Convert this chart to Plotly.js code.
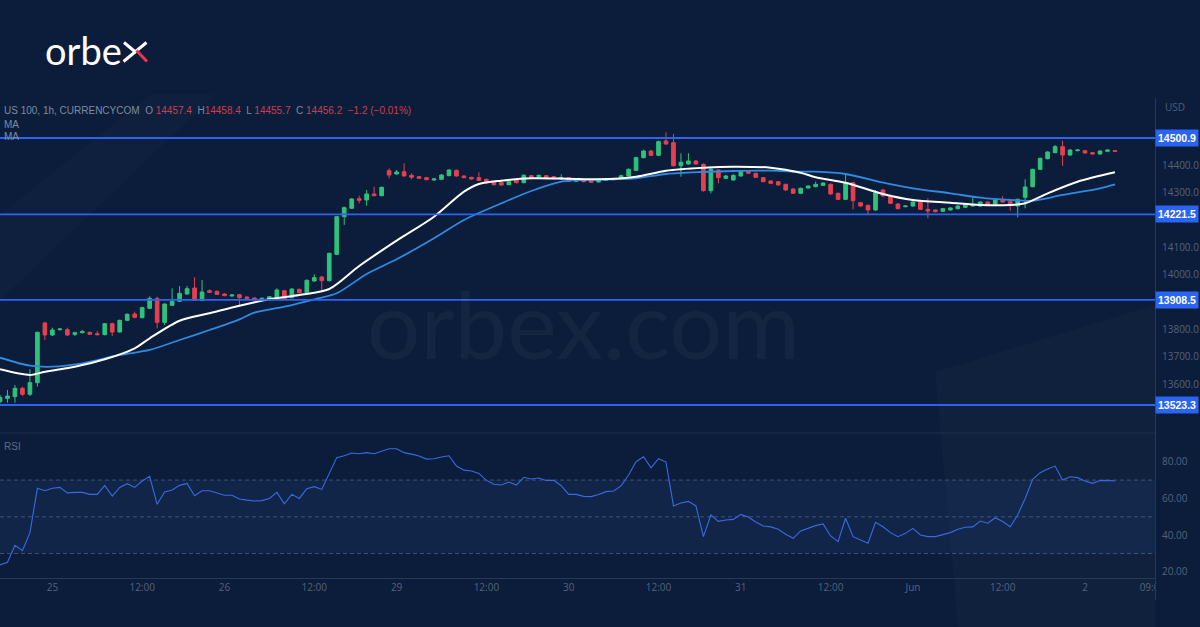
<!DOCTYPE html>
<html><head><meta charset="utf-8">
<script src="https://cdn.plot.ly/plotly-3.0.1.min.js"></script>
<style>html,body{margin:0;padding:0;background:#0b1d3a;overflow:hidden}#chart{width:1200px;height:627px}</style>
</head><body><div id="chart"></div>
<script>
// ---- data (US 100, 1h) ----
const openP = [
13535.5,13547.7,13553.8,13584.3,13562.4,13605.1,13823.5,13779.6,13799.1,13799.1,
13782.0,13788.1,13789.4,13784.5,13780.8,13821.1,13790.6,13833.3,13856.5,13843.1,
13877.2,13913.8,13826.0,13888.2,13902.9,13929.7,13951.7,13906.5,13941.9,13939.5,
13929.7,13922.4,13927.3,13918.7,13915.1,13911.4,13910.2,13917.5,13941.9,13916.3,
13946.8,13935.8,13977.3,13992.0,13978.5,14074.9,14212.9,14243.4,14278.8,14273.9,
14295.9,14289.8,14381.3,14369.1,14377.6,14364.2,14359.3,14355.7,14347.1,14349.6,
14363.0,14382.5,14361.8,14356.9,14355.7,14349.6,14339.8,14337.3,14330.0,14347.1,
14337.3,14363.0,14359.3,14363.0,14359.3,14350.8,14355.7,14342.2,14347.1,14344.7,
14339.8,14345.9,14348.3,14349.6,14361.8,14382.5,14428.9,14453.3,14437.4,14489.9,
14483.8,14399.6,14405.7,14416.7,14404.5,14308.1,14383.7,14353.2,14347.1,14361.8,
14381.3,14371.5,14355.7,14343.5,14341.0,14331.2,14314.2,14298.3,14317.8,14322.7,
14327.6,14331.2,14298.3,14276.3,14337.3,14264.1,14254.3,14237.3,14310.5,14288.5,
14259.2,14249.5,14251.9,14266.6,14239.7,14237.3,14232.4,14237.3,14242.2,14247.0,
14251.9,14251.9,14266.6,14259.2,14273.9,14267.8,14251.9,14283.6,14322.7,14386.2,
14425.2,14447.2,14469.2,14438.6,14454.5,14454.5,14447.2,14442.3,14452.1,14454.5];
const highP = [
13559.9,13578.2,13596.5,13590.4,13653.9,13791.8,13828.4,13806.4,13804.0,13806.4,
13791.8,13797.9,13791.8,13794.2,13823.5,13824.7,13835.7,13859.0,13865.0,13883.3,
13921.2,13920.0,13895.5,13950.4,13959.0,13959.0,13990.7,13981.0,13946.8,13941.9,
13932.1,13928.5,13929.7,13921.2,13917.5,13916.3,13922.4,13950.5,13944.4,13950.5,
13949.2,13983.4,14001.7,13995.6,14081.0,14215.3,14249.5,14281.2,14289.8,14310.5,
14322.7,14322.7,14389.8,14383.7,14408.1,14371.5,14361.8,14358.1,14354.4,14369.1,
14386.2,14385.0,14364.2,14359.3,14375.2,14352.0,14342.2,14339.8,14343.4,14349.6,
14367.9,14365.4,14366.6,14365.4,14361.8,14367.9,14358.1,14350.8,14349.6,14347.1,
14352.0,14353.2,14354.4,14366.6,14389.8,14432.5,14457.0,14457.0,14491.1,14521.6,
14515.5,14444.7,14444.7,14419.1,14408.1,14395.9,14386.2,14365.4,14367.9,14383.7,
14383.7,14374.0,14358.1,14345.9,14343.4,14333.7,14316.6,14319.0,14327.6,14341.0,
14338.6,14334.9,14300.7,14367.9,14339.8,14266.6,14256.8,14310.5,14312.9,14291.0,
14261.7,14254.3,14269.0,14269.0,14280.0,14239.7,14244.6,14247.0,14254.3,14259.2,
14283.6,14269.0,14269.0,14276.3,14288.5,14270.2,14278.8,14349.6,14388.6,14428.9,
14452.1,14475.3,14491.1,14459.4,14459.4,14457.0,14449.7,14455.7,14459.4,14455.7];
const lowP = [
13529.4,13531.8,13531.8,13556.2,13556.2,13590.4,13761.3,13776.0,13795.4,13776.0,
13776.0,13785.7,13779.6,13778.4,13778.4,13776.0,13788.1,13830.9,13840.6,13840.6,
13874.8,13804.0,13816.2,13885.8,13900.4,13927.3,13904.1,13904.1,13933.4,13926.0,
13921.2,13920.0,13887.0,13911.4,13907.7,13909.0,13907.7,13915.1,13909.0,13913.8,
13932.1,13933.4,13974.9,13944.4,13976.1,14072.5,14182.4,14241.0,14261.7,14253.1,
14287.3,14287.3,14353.2,14366.6,14359.3,14349.6,14350.8,14345.9,14343.4,14347.1,
14360.5,14359.3,14353.2,14348.3,14343.4,14332.5,14326.4,14326.4,14327.6,14334.9,
14334.9,14354.4,14356.9,14354.4,14349.6,14348.3,14339.8,14339.8,14338.6,14336.1,
14337.3,14343.4,14345.9,14347.1,14359.3,14380.1,14426.4,14435.0,14435.0,14475.3,
14395.9,14359.3,14403.3,14403.3,14304.4,14298.3,14334.9,14350.8,14344.7,14359.3,
14369.1,14354.4,14338.6,14332.5,14326.4,14308.1,14295.9,14295.9,14315.4,14320.3,
14325.1,14293.4,14273.9,14273.9,14239.7,14249.5,14219.0,14234.8,14286.1,14259.2,
14239.7,14247.0,14249.5,14237.3,14206.8,14228.7,14229.9,14234.8,14239.7,14244.6,
14249.5,14249.5,14251.9,14256.8,14264.1,14234.8,14210.4,14243.4,14320.3,14383.7,
14422.8,14444.7,14398.4,14436.2,14452.1,14443.5,14439.9,14439.9,14450.9,14450.9];
const closeP = [
13551.4,13556.2,13584.3,13562.4,13605.1,13789.4,13779.6,13798.0,13801.6,13779.6,
13788.1,13791.8,13782.0,13780.8,13821.1,13790.6,13833.3,13855.3,13844.3,13879.7,
13913.8,13826.0,13893.1,13902.9,13932.1,13949.2,13906.5,13937.0,13935.8,13928.5,
13923.6,13926.0,13916.3,13913.8,13910.2,13913.8,13919.9,13944.4,13911.4,13948.0,
13934.6,13979.8,13989.5,13978.5,14078.6,14212.9,14245.8,14277.6,14272.7,14295.9,
14289.8,14320.3,14365.4,14376.4,14361.8,14356.9,14353.2,14348.3,14350.8,14365.4,
14383.7,14361.8,14355.7,14350.8,14345.9,14337.3,14330.0,14328.8,14341.0,14337.3,
14364.2,14356.9,14364.2,14356.9,14352.0,14355.7,14342.2,14348.3,14341.0,14338.6,
14349.6,14350.8,14352.0,14363.0,14386.2,14428.9,14453.3,14437.4,14487.5,14478.9,
14399.6,14411.8,14416.7,14405.7,14308.1,14386.2,14355.7,14361.8,14364.2,14381.3,
14371.5,14356.9,14341.0,14334.9,14328.8,14310.5,14298.3,14316.6,14325.1,14331.2,
14336.1,14295.9,14276.3,14337.3,14271.4,14251.9,14237.3,14302.0,14288.5,14261.7,
14242.2,14251.9,14266.6,14239.7,14233.6,14231.2,14242.2,14244.6,14251.9,14256.8,
14255.6,14266.6,14254.3,14273.9,14266.6,14254.3,14276.3,14321.5,14386.2,14426.4,
14449.7,14469.2,14438.6,14456.9,14456.9,14446.0,14442.3,14453.3,14456.9,14452.1];

// moving averages read at sampled bars
const maFastBar = [0,4,6,10,14,18,20,24,28,32,36,40,44,48,53,58,62,64,67,71,76,80,85,89,94,98,103,107,109,113,118,122,127,131,135,137,140,144,149];
const maFastVal = [13654.0,13633.2,13645.2,13663.5,13690.6,13730.9,13767.5,13831.9,13859.1,13886.9,13910.3,13926.1,13948.0,14032.2,14124.9,14212.7,14304.3,14332.5,14344.6,14353.3,14351.9,14349.7,14359.2,14381.2,14392.2,14395.8,14392.2,14373.8,14357.0,14337.2,14295.9,14273.9,14264.0,14255.6,14255.6,14261.8,14298.4,14340.9,14375.3];
const maSlowBar = [0,4,7,11,16,20,24,28,32,34,38,42,45,49,53,58,62,67,71,75,78,82,85,89,94,98,103,107,109,113,118,122,127,131,135,138,142,147,149];
const maSlowVal = [13696.5,13667.2,13663.5,13676.0,13706.4,13724.7,13761.3,13797.9,13837.1,13861.3,13883.2,13910.3,13932.3,14003.0,14056.8,14133.7,14200.7,14261.8,14306.8,14340.9,14347.1,14349.7,14353.3,14369.1,14376.4,14380.1,14381.2,14377.5,14377.5,14369.1,14337.2,14316.7,14298.4,14282.3,14273.9,14271.3,14292.2,14316.7,14331.4];

const rsiVal = [
23.8,25.3,34.5,31.6,41.4,65.5,64.2,65.5,66.0,63.0,
63.3,63.3,62.2,62.2,67.1,61.3,66.0,68.0,66.0,69.5,
72.0,56.8,63.5,64.6,67.1,68.2,61.5,64.2,64.2,63.1,
61.7,61.7,59.7,59.1,58.6,58.8,60.0,63.3,57.1,62.2,
60.0,65.3,66.4,64.9,73.6,82.2,83.2,84.7,84.3,84.9,
84.3,85.6,87.0,87.0,84.9,84.1,83.1,81.4,81.6,82.5,
83.2,77.6,75.4,74.9,73.6,69.8,67.7,67.3,68.9,67.3,
71.5,70.6,71.1,69.8,69.8,66.9,62.2,62.2,61.1,61.0,
62.1,63.7,64.0,66.8,72.7,80.0,82.7,76.7,81.6,79.8,
55.9,57.5,58.4,55.9,39.2,51.0,47.5,48.3,48.6,51.3,
49.9,47.2,45.0,44.5,43.2,40.5,38.3,42.3,43.7,45.2,
46.1,39.6,36.5,49.2,39.2,37.4,35.6,47.0,44.6,41.4,
39.2,41.0,43.7,40.1,39.2,39.2,40.1,41.4,43.2,44.3,
44.5,47.7,46.5,49.5,47.4,44.6,51.0,60.0,70.4,74.0,
76.0,77.6,70.0,71.8,71.3,69.5,68.2,69.7,69.8,69.5];

const levels = [14500.9, 14221.5, 13908.5, 13523.3];
const rsiLevels = [70, 50, 30];
const tickBars = [7,19,30,42,53,65,76,88,99,111,122,134,145,154];
const tickLabels = ['25','12:00','26','12:00','29','12:00','30','12:00','31','12:00','Jun','12:00','2','09:00'];
const priceTicks = [13600,13700,13800,14000,14100,14300,14400];
const rsiTicks = [20,40,60,80];

// ---- layout helpers ----
const W=1200,H=627,ML=0,MR=45,MT=98,MB=49;
const PW=W-ML-MR, PH=H-MT-MB;
const px = x => (x-ML)/PW;
const py = y => (H-MB-y)/PH;
const split = py(433);

const BG='#0b1d3a', GREEN='#2fc27a', RED='#e5404f', LVL='#2b64f2';
const FONT='Open Sans, Liberation Sans, sans-serif';
const HFONT='Liberation Sans, Arial, sans-serif';
const bars = openP.map((_,i)=>i);

const traces = [
  {type:'candlestick', x:bars, open:openP, high:highP, low:lowP, close:closeP,
   increasing:{line:{color:GREEN,width:1},fillcolor:GREEN},
   decreasing:{line:{color:RED,width:1},fillcolor:RED},
   whiskerwidth:0, hoverinfo:'skip', xaxis:'x', yaxis:'y'},
  {type:'scatter', mode:'lines', x:maSlowBar, y:maSlowVal, line:{color:'#2f8ae4',width:1.8,shape:'spline',smoothing:0.8}, hoverinfo:'skip', xaxis:'x', yaxis:'y'},
  {type:'scatter', mode:'lines', x:maFastBar, y:maFastVal, line:{color:'#ffffff',width:2,shape:'spline',smoothing:0.8}, hoverinfo:'skip', xaxis:'x', yaxis:'y'},
  {type:'scatter', mode:'lines', x:bars, y:rsiVal, line:{color:'#3a6ae2',width:1.1}, hoverinfo:'skip', xaxis:'x', yaxis:'y2'}
];

const shapes = [];
// decorative faint streaks
shapes.push({type:'path', xref:'paper', yref:'paper', layer:'below',
  path:`M ${px(0)} ${py(300)} L ${px(0)} ${py(215)} L ${px(150)} ${py(95)} L ${px(215)} ${py(95)} Z`,
  fillcolor:'rgba(255,255,255,0.015)', line:{width:0}});
shapes.push({type:'path', xref:'paper', yref:'paper', layer:'below',
  path:`M ${px(935)} ${py(372)} L ${px(1155)} ${py(305)} L ${px(1155)} ${py(627)} L ${px(958)} ${py(627)} Z`,
  fillcolor:'rgba(255,255,255,0.02)', line:{width:0}});
// RSI band
shapes.push({type:'rect', xref:'paper', yref:'y2', x0:0, x1:1, y0:30, y1:70,
  fillcolor:'rgba(50,80,150,0.17)', line:{width:0}, layer:'below'});
rsiLevels.forEach(v=>shapes.push({type:'line', xref:'paper', yref:'y2', x0:0, x1:1, y0:v, y1:v,
  line:{color:'rgba(125,140,170,0.45)', width:1, dash:'4px,3px'}, layer:'below'}));
// pane separator
shapes.push({type:'line', xref:'paper', yref:'paper', x0:0, x1:1, y0:split, y1:split, line:{color:'#1e3150',width:1}});
// price levels
levels.forEach(v=>shapes.push({type:'line', xref:'paper', yref:'y', x0:0, x1:1, y0:v, y1:v,
  line:{color:LVL, width:1.8}}));
// clip last x label behind price-scale column
shapes.push({type:'rect', xref:'paper', yref:'paper', x0:px(1156.5), x1:px(1200), y0:py(603), y1:py(580),
  fillcolor:BG, line:{width:0}, layer:'above'});
// price scale separator
shapes.push({type:'line', xref:'paper', yref:'paper', x0:px(1155.5), x1:px(1155.5), y0:py(98), y1:py(600),
  line:{color:'#25385a', width:1}});
// logo "x" drawn as strokes
shapes.push({type:'line', xref:'paper', yref:'paper', x0:px(124), y0:py(42.5), x1:px(136), y1:py(52.5),
  line:{color:'#ffffff', width:3}});
shapes.push({type:'line', xref:'paper', yref:'paper', x0:px(146.5), x1:px(123.5), y0:py(42.5), y1:py(61.5),
  line:{color:'#ffffff', width:3}});
shapes.push({type:'line', xref:'paper', yref:'paper', x0:px(136.5), y0:py(50.5), x1:px(147), y1:py(61.5),
  line:{color:'#e8354b', width:3.2}});

const annotations = [];
levels.forEach(v=>annotations.push({xref:'paper', yref:'y', x:1, y:v, xanchor:'left', yanchor:'middle',
  text:'<b>'+v.toFixed(1)+'</b>', showarrow:false, bgcolor:LVL, borderpad:2, xshift:0,
  font:{family:HFONT, size:10.5, color:'#ffffff'}}));
annotations.push({xref:'paper', yref:'paper', x:px(1163), y:py(107), xanchor:'left', yanchor:'middle',
  text:'USD', showarrow:false, font:{family:FONT, size:10, color:'#4f5d78'}});
const rv = s => '<span style="color:#c8404f">'+s+'</span>';
annotations.push({xref:'paper', yref:'paper', x:px(2), y:py(110), xanchor:'left', yanchor:'middle', showarrow:false,
  text:'US 100, 1h, CURRENCYCOM  O '+rv('14457.4')+'  H'+rv('14458.4')+'  L '+rv('14455.7')+'  C '+rv('14456.2')+'  '+rv('−1.2 (−0.01%)'),
  font:{family:HFONT, size:10, color:'#7f8ba0'}});
annotations.push({xref:'paper', yref:'paper', x:px(2), y:py(124), xanchor:'left', yanchor:'middle', showarrow:false,
  text:'MA', font:{family:HFONT, size:10, color:'#7f8ba0'}});
annotations.push({xref:'paper', yref:'paper', x:px(2), y:py(136.5), xanchor:'left', yanchor:'middle', showarrow:false,
  text:'MA', font:{family:HFONT, size:10, color:'#7f8ba0'}});
annotations.push({xref:'paper', yref:'paper', x:px(2), y:py(446), xanchor:'left', yanchor:'middle', showarrow:false,
  text:'RSI', font:{family:HFONT, size:10, color:'#5d6a84'}});
annotations.push({xref:'paper', yref:'paper', x:px(43), y:py(50), xanchor:'left', yanchor:'middle', showarrow:false,
  text:'orbe', font:{family:'Lato, sans-serif', size:38, color:'#ffffff'}});
annotations.push({xref:'paper', yref:'paper', x:px(583), y:py(322), xanchor:'center', yanchor:'middle', showarrow:false,
  text:'orbex.com', font:{family:'Lato, sans-serif', size:94, color:'rgba(255,255,255,0.04)'}});

const tickFont = {family:FONT, size:10, color:'#55627c'};
const layout = {
  width:W, height:H, margin:{l:ML,r:MR,t:MT,b:MB},
  paper_bgcolor:BG, plot_bgcolor:BG, showlegend:false, dragmode:false,
  xaxis:{domain:[0,1], anchor:'y2', range:[0,154.35], tickmode:'array', tickvals:tickBars, ticktext:tickLabels,
    showgrid:false, zeroline:false, showline:true, linecolor:'#26395a', linewidth:1, ticks:'',
    tickfont:tickFont, rangeslider:{visible:false}, fixedrange:true},
  yaxis:{domain:[split,1], anchor:'x', side:'right', range:[13420.8,14647.3], tickmode:'array', tickvals:priceTicks,
    tickformat:'.1f', showgrid:false, zeroline:false, showline:false, ticks:'', ticklabelstandoff:6, tickfont:tickFont, fixedrange:true},
  yaxis2:{domain:[0,split], anchor:'x', side:'right', range:[16.7,95.6], tickmode:'array', tickvals:rsiTicks,
    tickformat:'.2f', showgrid:false, zeroline:false, showline:false, ticks:'', ticklabelstandoff:6, tickfont:tickFont, fixedrange:true},
  shapes:shapes, annotations:annotations
};
Plotly.newPlot('chart', traces, layout, {displayModeBar:false, staticPlot:true});
</script></body></html>
